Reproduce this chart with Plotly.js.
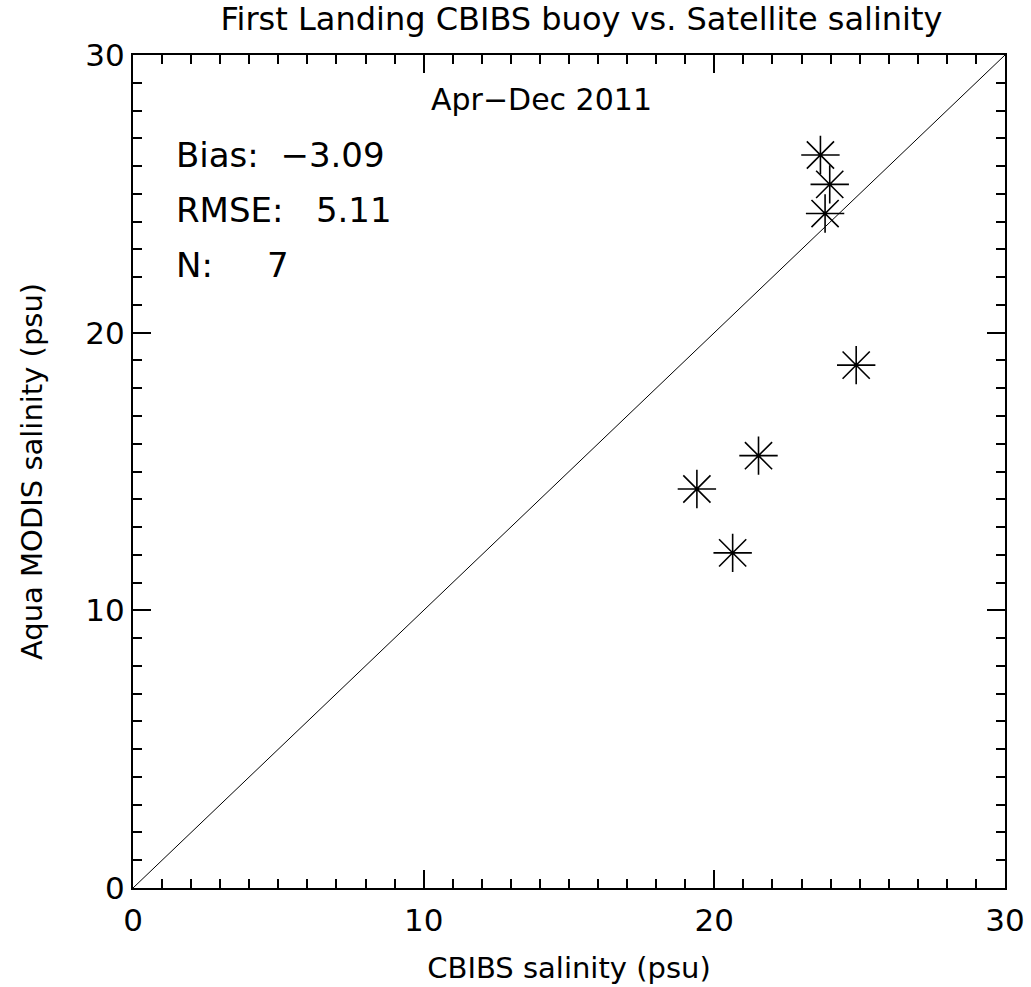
<!DOCTYPE html>
<html>
<head>
<meta charset="utf-8">
<script src="https://cdn.plot.ly/plotly-3.0.1.min.js"></script>
<style>html,body{margin:0;padding:0;background:#fff;}#chart{width:1031px;height:987px;}</style>
</head>
<body>
<div id="chart"></div>
<script>
// CBIBS buoy salinity (x) vs Aqua MODIS satellite salinity (y), psu
var buoySalinity = [23.65, 23.97, 23.81, 24.88, 21.52, 19.40, 20.63];
var satSalinity  = [26.40, 25.34, 24.29, 18.83, 15.57, 14.37, 12.07];
var oneToOneX = [0, 30];
var oneToOneY = [0, 30];
var axisRange = [0, 30];
var tickVals = [0, 10, 20, 30];
var tickText = ['0', '10', '20', '30'];
var titleText = 'First Landing CBIBS buoy vs. Satellite salinity';
var periodText = 'Apr\u2212Dec 2011';
var statLines = ['Bias:\u00a0\u00a0\u22123.09', 'RMSE:\u00a0\u00a0\u00a05.11', 'N:\u00a0\u00a0\u00a0\u00a0\u00a07'];
var statY = [26.4, 24.4, 22.45];

var font = 'DejaVu Sans, Liberation Sans, sans-serif';

var traces = [
  {x: oneToOneX, y: oneToOneY, mode: 'lines', type: 'scatter',
   line: {color: '#000', width: 1}, hoverinfo: 'skip', showlegend: false},
  {x: buoySalinity, y: satSalinity, mode: 'markers', type: 'scatter',
   marker: {symbol: 'asterisk-open', size: 32, color: '#000', line: {color: '#000', width: 1.6}},
   showlegend: false}
];

var axisCommon = {
  range: axisRange, tickmode: 'array', tickvals: tickVals, ticktext: tickText,
  ticks: 'inside', ticklen: 18, tickwidth: 2, tickcolor: '#000',
  showline: true, linewidth: 2, linecolor: '#000', mirror: 'allticks',
  showgrid: false, zeroline: false,
  tickfont: {family: font, size: 31, color: '#000'},
  minor: {dtick: 1, ticks: 'inside', ticklen: 9, tickwidth: 2, tickcolor: '#000', showgrid: false}
};

var annotations = [
  {x: 0.469, y: 0.947, xref: 'paper', yref: 'paper', text: periodText, showarrow: false,
   font: {family: font, size: 30, color: '#000'}, xanchor: 'center', yanchor: 'middle'}
];
for (var i = 0; i < statLines.length; i++) {
  annotations.push({x: 1.4, y: statY[i], xref: 'x', yref: 'y', text: statLines[i], showarrow: false,
    font: {family: font, size: 34, color: '#000'}, xanchor: 'left', yanchor: 'middle'});
}

var layout = {
  width: 1031, height: 987,
  margin: {l: 133, r: 26, t: 55, b: 99},
  paper_bgcolor: '#fff', plot_bgcolor: '#fff',
  title: {text: titleText, x: 0.564, xanchor: 'center', y: 0.981, yanchor: 'middle',
          font: {family: font, size: 32, color: '#000'}},
  xaxis: Object.assign({}, axisCommon, {
    ticklabelstandoff: 4,
    title: {text: 'CBIBS salinity (psu)', font: {family: font, size: 29, color: '#000'}, standoff: 20}
  }),
  yaxis: Object.assign({}, axisCommon, {
    title: {text: 'Aqua MODIS salinity (psu)', font: {family: font, size: 29, color: '#000'}, standoff: 34}
  }),
  annotations: annotations,
  showlegend: false
};

Plotly.newPlot('chart', traces, layout, {displayModeBar: false, staticPlot: true});
</script>
</body>
</html>
